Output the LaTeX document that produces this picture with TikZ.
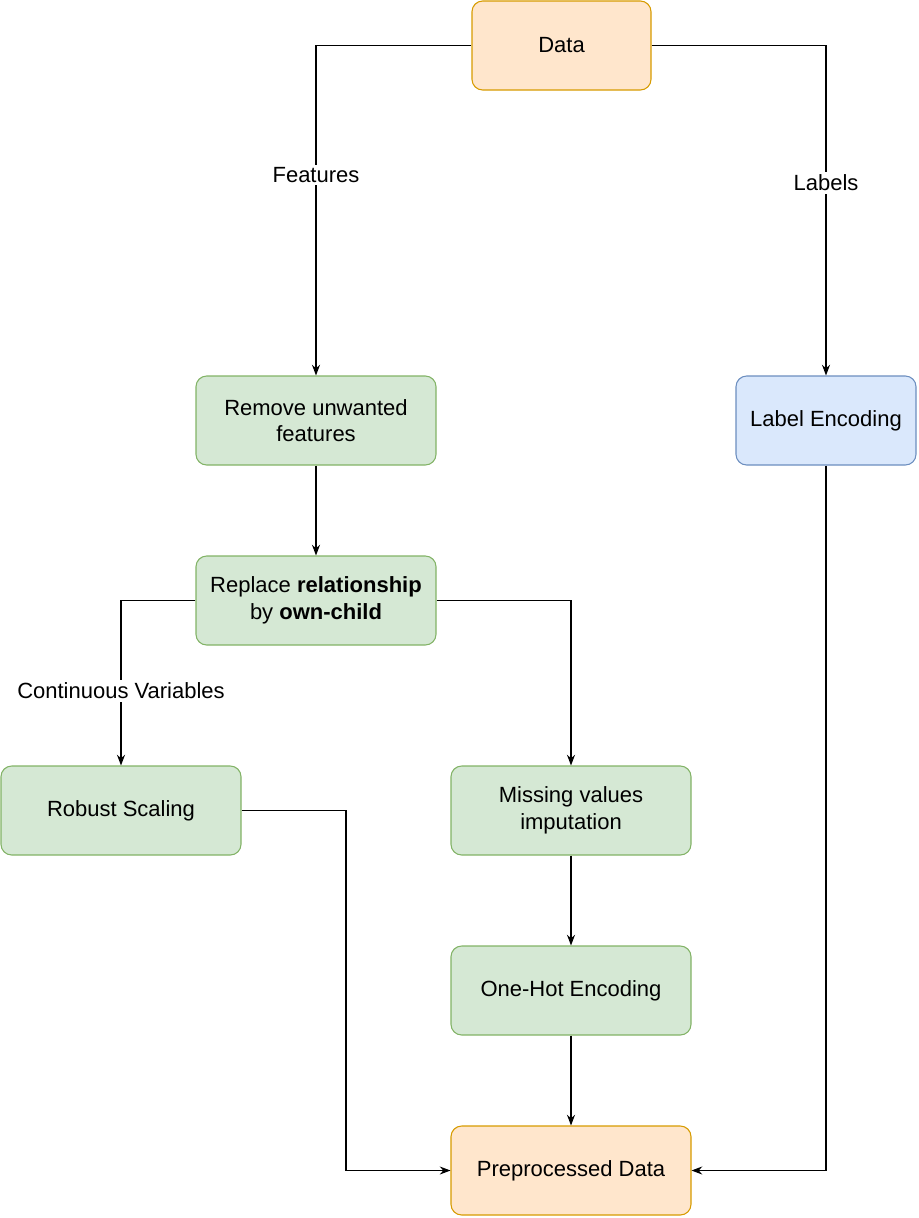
\documentclass[tikz,border=0pt]{standalone}
\usepackage{fontspec}
\setmainfont{Liberation Sans}
\usepackage{xcolor}
\usetikzlibrary{arrows.meta,positioning}
\definecolor{dataorange}{HTML}{FFE6CC}
\definecolor{dataorangeline}{HTML}{D79B00}
\definecolor{stepgreen}{HTML}{D5E8D4}
\definecolor{stepgreenline}{HTML}{82B366}
\definecolor{labelblue}{HTML}{DAE8FC}
\definecolor{labelblueline}{HTML}{6C8EBF}
\tikzset{
  box/.style={rounded corners=8pt,line width=0.8pt,minimum width=180pt,minimum height=66.75pt,
    align=center,inner sep=2pt,font=\fontsize{16.5pt}{20pt}\selectfont},
  databox/.style={box,draw=dataorangeline,fill=dataorange},
  stepbox/.style={box,draw=stepgreenline,fill=stepgreen},
  encbox/.style={box,draw=labelblueline,fill=labelblue},
  flow/.style={-{Stealth[length=8pt,width=6pt]},line width=0.8pt,black},
  edgelabel/.style={fill=white,inner sep=2pt,font=\fontsize{16.5pt}{20pt}\selectfont}
}

\begin{document}
\begin{tikzpicture}[x=0.75pt,y=-0.75pt]
  \useasboundingbox (0,0) rectangle (918,1218);
  \node[databox,minimum width=134.25pt] (data) at (561.5,45.5) {Data};
  \node[stepbox] (remove) at (316,420.5) {Remove unwanted\\features};
  \node[encbox,minimum width=135pt] (labenc) at (826,420.5) {Label Encoding};
  \node[stepbox] (replace) at (316,600.5) {Replace \textbf{relationship}\\by \textbf{own-child}};
  \node[stepbox] (robust) at (121,810.5) {Robust Scaling};
  \node[stepbox] (missing) at (571,810.5) {Missing values\\imputation};
  \node[stepbox] (onehot) at (571,990.5) {One-Hot Encoding};
  \node[databox] (prep) at (571,1170.5) {Preprocessed Data};
  \coordinate (robustbend) at (346,1170.5);
  % split of the raw data
  \draw[flow] (data.west) -| node[edgelabel,pos=0.696] {Features} (remove.north);
  \draw[flow] (data.east) -| node[edgelabel,pos=0.708] {Labels} (labenc.north);
  % feature pipeline
  \draw[flow] (remove) -- (replace);
  \draw[flow] (replace.west) -| node[edgelabel,pos=0.774] {Continuous Variables} (robust.north);
  \draw[flow] (replace.east) -| (missing.north);
  \draw[flow] (missing) -- (onehot);
  \draw[flow] (onehot) -- (prep);
  % merge into the result
  \draw[flow] (robust.east) -| (robustbend) -- (prep.west);
  \draw[flow] (labenc.south) |- (prep.east);
\end{tikzpicture}
\end{document}
